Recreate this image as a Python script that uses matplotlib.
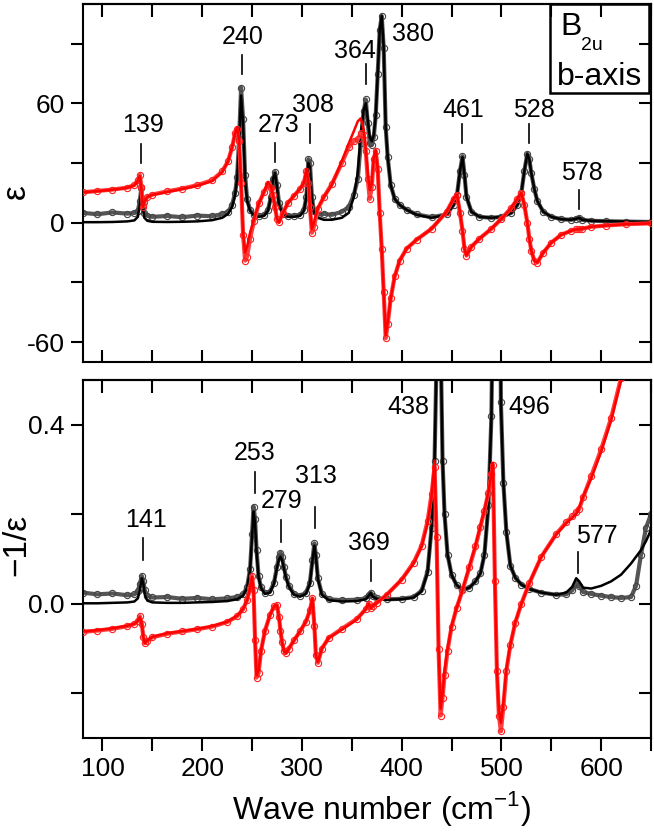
import matplotlib
import matplotlib.pyplot as plt
from matplotlib.patches import Rectangle
from matplotlib.ticker import MultipleLocator, FormatStrFormatter

matplotlib.pyplot.switch_backend('Agg')
plt.rcParams['font.family'] = ['Liberation Sans', 'DejaVu Sans']
plt.rcParams['axes.unicode_minus'] = False
plt.rcParams['mathtext.fontset'] = 'custom'
plt.rcParams['mathtext.rm'] = 'Liberation Sans'

# ---- top panel: epsilon (black = eps2, red = eps1) ----
wn_top = [80, 95, 110, 125, 132, 135.5, 137.5, 139, 140.5, 142, 145, 150, 165, 180, 195,
          210, 220, 226, 230, 233, 235, 237, 239, 241, 243, 245, 248, 252, 257, 262,
          266, 269, 271, 273, 275, 277, 281, 286, 292, 298, 302, 304.5, 306.5, 308, 310,
          312, 316, 322, 330, 340, 347, 352, 356, 359, 362, 364, 366, 368, 370, 372,
          374, 376, 378, 380, 382, 384, 386, 389, 393, 398, 405, 415, 430, 445, 452,
          455.5, 458.5, 461, 463, 465, 470, 478, 490, 500, 510, 516, 520, 523, 526, 528,
          530, 533, 536, 542, 550, 560, 570, 575, 578, 581, 590, 605, 625, 650]
eps2_fit = [0.3, 0.3, 0.4, 0.7, 1.2, 3.0, 9.0, 17.0, 8.0, 2.5, 1.0, 0.5, 0.4, 0.5, 0.7,
            1.3, 2.5, 4.5, 8.0, 14.0, 22.0, 40.0, 64.0, 50.0, 22.0, 11.0, 6.0, 3.5, 3.0, 3.5,
            6.0, 13.0, 22.0, 25.0, 18.0, 9.0, 4.0, 3.0, 3.0, 3.5, 6.0, 13.0, 30.0, 28.0, 12.0,
            5.0, 2.5, 1.5, 1.5, 2.5, 5.0, 13.0, 25.0, 45.0, 57.0, 60.0, 52.0, 43.0, 41.0, 44.0,
            54.0, 75.0, 97.0, 104.0, 88.0, 48.0, 33.0, 19.0, 12.0, 9.0, 6.5, 4.0, 2.5, 4.0, 9.0,
            14.0, 26.0, 33.0, 24.0, 13.0, 5.5, 3.0, 2.5, 3.0, 5.0, 9.0, 15.0, 26.0, 34.7, 32.0,
            25.0, 17.0, 11.0, 5.5, 3.0, 1.8, 1.5, 2.0, 2.5, 1.5, 1.0, 0.8, 0.6, 0.4]
eps2_data = [5.0, 4.3, 5.2, 4.6, 4.9, 6.0, 11.0, 17.5, 9.0, 5.0, 3.5, 3.0, 3.4, 2.8, 3.6,
             3.3, 4.4, 5.5, 9.0, 15.0, 23.0, 42.0, 68.0, 52.0, 24.0, 12.0, 6.5, 4.0, 3.5, 4.0,
             6.5, 13.0, 22.0, 25.5, 19.0, 10.0, 4.5, 3.5, 3.5, 4.0, 6.5, 13.0, 32.0, 30.0, 13.0,
             6.0, 4.0, 4.5, 4.0, 5.5, 8.0, 14.0, 22.0, 40.0, 56.0, 62.0, 50.0, 40.0, 39.0, 43.0,
             54.0, 75.0, 97.0, 104.0, 88.0, 48.0, 33.0, 19.0, 12.0, 9.0, 6.5, 4.2, 2.8, 4.2, 9.0,
             14.0, 26.0, 33.5, 24.0, 13.0, 5.5, 3.0, 2.5, 3.0, 5.0, 9.0, 15.0, 26.0, 34.7, 32.0,
             25.0, 17.0, 11.0, 5.5, 3.0, 1.8, 1.5, 2.0, 2.5, 1.5, 1.0, 0.8, 0.6, 0.4]
eps1_fit = [15.3, 15.9, 16.6, 17.6, 18.8, 21.0, 23.5, 17.0, 8.0, 10.5, 13.0, 14.0, 15.5, 17.0, 18.6,
            21.0, 25.5, 31.0, 38.0, 45.0, 48.0, 42.0, 20.0, -5.0, -15.0, -12.0, -5.0, 2.0, 10.0, 15.5,
            20.5, 18.0, 14.0, 8.0, 2.0, 0.0, 5.0, 10.0, 13.5, 17.0, 20.0, 27.0, 20.0, 8.0, -3.0,
            0.0, 7.5, 13.0, 19.0, 31.0, 40.0, 46.0, 51.0, 52.5, 47.0, 37.0, 25.0, 16.5, 20.0, 33.0,
            36.5, 27.0, 5.0, -13.0, -35.0, -56.5, -50.0, -38.0, -27.0, -19.0, -13.0, -8.5, -3.0, 5.5, 12.0,
            14.2, 5.0, -4.0, -13.0, -16.5, -12.0, -8.0, -3.0, 2.0, 7.5, 12.0, 15.0, 9.0, 0.0, -8.0,
            -14.0, -19.0, -20.0, -15.0, -10.0, -6.0, -4.0, -3.3, -3.3, -3.0, -2.0, -1.4, -0.7, -0.3]
eps1_data = [15.3, 16.0, 16.7, 17.7, 19.0, 21.5, 24.0, 18.0, 8.0, 10.5, 13.0, 14.2, 15.8, 17.2, 18.9,
             21.4, 25.8, 31.0, 38.0, 45.0, 47.0, 41.0, 20.0, -6.0, -19.0, -17.0, -8.0, 1.0, 10.0, 15.5,
             19.5, 17.5, 14.0, 8.0, 2.0, 0.5, 5.0, 10.0, 13.5, 17.0, 20.0, 26.0, 20.0, 8.0, -5.0,
             -2.0, 7.0, 13.0, 19.5, 30.0, 38.0, 41.0, 42.0, 45.0, 44.0, 36.0, 22.0, 12.0, 18.0, 32.0,
             36.0, 27.0, 5.0, -13.0, -35.0, -58.0, -51.0, -38.0, -27.0, -19.0, -13.0, -8.5, -3.0, 5.5, 12.0,
             14.0, 5.0, -4.0, -13.0, -16.5, -12.0, -8.0, -3.0, 2.0, 7.5, 12.0, 15.0, 9.0, 0.0, -8.0,
             -14.0, -19.0, -20.0, -15.0, -10.0, -6.0, -4.0, -3.3, -3.3, -3.0, -2.0, -1.4, -0.7, -0.3]

# ---- bottom panel: -1/epsilon (black = Im, red = Re) ----
wn_bot = [80, 95, 110, 125, 132, 135.5, 137.5, 139.5, 141, 142.5, 145, 150, 165, 180, 195,
          210, 225, 235, 241, 245, 248, 250, 251.5, 253, 254.5, 256.5, 259, 263, 268, 272,
          275, 277, 278.5, 280, 282, 284, 287, 292, 298, 304, 308, 310.5, 312.5, 314, 316,
          320, 327, 340, 355, 364, 367, 369, 371, 375, 385, 400, 412, 420, 426, 430,
          433, 435, 437, 439, 441, 443, 446, 450, 455, 461, 468, 474, 479, 483, 487,
          490, 491.5, 493.5, 495.5, 497.5, 499.5, 502, 505, 509, 514, 520, 528, 540, 555, 565,
          571, 575, 578, 582, 590, 600, 610, 620, 630, 635, 640, 645, 650]
loss_fit = [0.001, 0.001, 0.002, 0.003, 0.005, 0.012, 0.030, 0.057, 0.045, 0.020, 0.007, 0.003, 0.002, 0.002, 0.003,
            0.004, 0.006, 0.010, 0.018, 0.035, 0.075, 0.150, 0.206, 0.180, 0.115, 0.060, 0.035, 0.022, 0.025, 0.045,
            0.080, 0.100, 0.105, 0.098, 0.078, 0.058, 0.038, 0.020, 0.016, 0.022, 0.045, 0.095, 0.130, 0.105, 0.055,
            0.020, 0.008, 0.005, 0.006, 0.010, 0.018, 0.024, 0.016, 0.011, 0.009, 0.010, 0.014, 0.028, 0.070, 0.170,
            0.320, 0.550, 1.500, 0.600, 0.320, 0.200, 0.110, 0.065, 0.042, 0.031, 0.036, 0.050, 0.068, 0.110, 0.220,
            0.420, 0.700, 1.500, 3.000, 1.200, 0.450, 0.270, 0.160, 0.085, 0.058, 0.043, 0.033, 0.025, 0.020, 0.025,
            0.038, 0.057, 0.050, 0.036, 0.034, 0.040, 0.050, 0.065, 0.090, 0.105, 0.120, 0.140, 0.165]
loss_data = [0.025, 0.021, 0.023, 0.019, 0.021, 0.028, 0.045, 0.062, 0.050, 0.030, 0.018, 0.014, 0.015, 0.011, 0.013,
             0.010, 0.012, 0.015, 0.021, 0.037, 0.077, 0.155, 0.217, 0.190, 0.120, 0.062, 0.037, 0.024, 0.027, 0.047,
             0.083, 0.105, 0.114, 0.105, 0.082, 0.060, 0.040, 0.022, 0.018, 0.024, 0.047, 0.098, 0.135, 0.108, 0.057,
             0.022, 0.010, 0.008, 0.009, 0.012, 0.020, 0.025, 0.017, 0.012, 0.010, 0.011, 0.015, 0.029, 0.072, 0.170,
             0.320, 0.550, 1.500, 0.600, 0.320, 0.200, 0.110, 0.065, 0.042, 0.031, 0.036, 0.050, 0.068, 0.110, 0.220,
             0.420, 0.700, 1.500, 3.000, 1.200, 0.450, 0.270, 0.160, 0.085, 0.058, 0.043, 0.033, 0.025, 0.020, 0.021,
             0.030, 0.045, 0.040, 0.026, 0.022, 0.018, 0.015, 0.013, 0.015, 0.040, 0.110, 0.170, 0.200]
re_fit = [-0.062, -0.059, -0.055, -0.049, -0.045, -0.038, -0.030, -0.045, -0.075, -0.088, -0.082, -0.074, -0.066, -0.061, -0.056,
          -0.050, -0.040, -0.027, -0.012, 0.008, 0.035, 0.060, 0.030, -0.080, -0.160, -0.150, -0.105, -0.060, -0.025, -0.006,
          -0.003, -0.030, -0.060, -0.085, -0.105, -0.110, -0.100, -0.082, -0.062, -0.040, -0.015, 0.012, -0.050, -0.115, -0.130,
          -0.100, -0.076, -0.058, -0.035, -0.012, 0.000, -0.010, -0.005, 0.002, 0.020, 0.054, 0.090, 0.128, 0.180, 0.240,
          0.320, 0.150, -0.100, -0.235, -0.200, -0.150, -0.100, -0.050, -0.010, 0.031, 0.085, 0.130, 0.175, 0.210, 0.250,
          0.290, 0.315, 0.050, -0.150, -0.240, -0.266, -0.220, -0.145, -0.090, -0.040, 0.000, 0.046, 0.105, 0.155, 0.180,
          0.192, 0.200, 0.215, 0.240, 0.280, 0.340, 0.410, 0.500, 0.580, 0.630, 0.680, 0.720, 0.770]
re_data = [-0.063, -0.060, -0.056, -0.050, -0.045, -0.038, -0.028, -0.045, -0.075, -0.088, -0.083, -0.075, -0.067, -0.062, -0.057,
           -0.051, -0.041, -0.028, -0.012, 0.008, 0.035, 0.062, 0.030, -0.080, -0.165, -0.155, -0.105, -0.060, -0.025, -0.006,
           -0.003, -0.030, -0.060, -0.085, -0.105, -0.110, -0.100, -0.082, -0.062, -0.040, -0.015, 0.012, -0.050, -0.115, -0.132,
           -0.100, -0.076, -0.056, -0.034, -0.012, 0.000, -0.010, -0.005, 0.002, 0.020, 0.054, 0.092, 0.130, 0.185, 0.245,
           0.305, 0.150, -0.100, -0.250, -0.210, -0.160, -0.105, -0.052, -0.010, 0.030, 0.082, 0.128, 0.172, 0.208, 0.248,
           0.290, 0.310, 0.050, -0.150, -0.250, -0.285, -0.230, -0.150, -0.092, -0.042, 0.000, 0.046, 0.105, 0.156, 0.182,
           0.195, 0.205, 0.212, 0.238, 0.285, 0.345, 0.415, 0.505, 0.585, 0.630, 0.680, 0.720, 0.770]

# peak labels
top_peaks = [139, 240, 273, 308, 364, 380, 461, 528, 578]
top_text_dx = [2, 1, 3.5, 3, -10.5, 31, 1, 5, 3]
top_text_y = [45.6, 90, 45.6, 55.6, 83, 91.6, 53, 53, 21.6]
top_mark_y = [30, 74.6, 30.6, 40, 70, None, 40, 40, 7]
bot_peaks = [141, 253, 279, 313, 369, 438, 496, 577]
bot_text_dx = [2.5, 0, 1, 1, -1.5, -31.5, 31.5, 19]
bot_text_y = [0.172, 0.321, 0.213, 0.269, 0.12, 0.425, 0.425, 0.135]
bot_mark_y = [0.098, 0.247, 0.139, 0.169, 0.05, None, None, 0.068]

fig = plt.figure(figsize=(6.54, 8.34), dpi=100)
W, H = 654.0, 834.0
ax1 = fig.add_axes([82.5 / W, 1 - 362 / H, 568.5 / W, 358 / H])
ax2 = fig.add_axes([82.5 / W, 1 - 738 / H, 568.5 / W, 358 / H])


def draw_curves(ax, x, bd, bf, rd, rf):
    ax.plot(x, bd, color='#555555', lw=3, marker='o', ms=4.5, mfc='none',
            mec='#444444', mew=0.8, zorder=2)
    ax.plot(x, bf, color='black', lw=1.8, zorder=3)
    ax.plot(x, rd, color='#ff4040', lw=3, marker='o', ms=4.5, mfc='none',
            mec='#ff2020', mew=0.8, zorder=4)
    ax.plot(x, rf, color='#ff0000', lw=1.8, zorder=5)


def style_axes(ax, bottom_out):
    for s in ax.spines.values():
        s.set_linewidth(1.5)
    ax.set_xlim(80, 650)
    ax.xaxis.set_major_locator(MultipleLocator(100))
    ax.xaxis.set_minor_locator(MultipleLocator(50))
    ax.tick_params(axis='y', which='both', direction='out', length=9, width=1.5,
                   labelsize=19, pad=4, right=False)
    ax.tick_params(axis='x', which='both', direction='out' if bottom_out else 'in',
                   length=9, width=1.5, labelsize=19, pad=5, top=False,
                   labelbottom=bottom_out)
    sx = ax.secondary_xaxis('top')
    sx.xaxis.set_major_locator(MultipleLocator(50))
    sx.tick_params(direction='in', length=9, width=1.5, labeltop=False)
    sy = ax.secondary_yaxis('right')
    sy.yaxis.set_major_locator(ax.yaxis.get_minor_locator())
    sy.tick_params(direction='in', length=9, width=1.5, labelright=False)
    for sec in (sx, sy):
        for s in sec.spines.values():
            s.set_linewidth(1.5)


def label_peaks(ax, peaks, dx, ty, my, mlen):
    for p, d, t, m in zip(peaks, dx, ty, my):
        ax.text(p + d, t, str(p), ha='center', va='baseline', fontsize=18)
        if m is not None:
            ax.plot([p, p], [m, m + mlen], color='black', lw=1.2)


draw_curves(ax1, wn_top, eps2_data, eps2_fit, eps1_data, eps1_fit)
ax1.set_ylim(-70, 110)
ax1.yaxis.set_major_locator(MultipleLocator(60))
ax1.yaxis.set_minor_locator(MultipleLocator(30))
style_axes(ax1, False)
label_peaks(ax1, top_peaks, top_text_dx, top_text_y, top_mark_y, 9.6)

draw_curves(ax2, wn_bot, loss_data, loss_fit, re_data, re_fit)
ax2.set_ylim(-0.3, 0.5)
ax2.yaxis.set_major_locator(MultipleLocator(0.4))
ax2.yaxis.set_minor_locator(MultipleLocator(0.2))
ax2.yaxis.set_major_formatter(FormatStrFormatter('%.1f'))
style_axes(ax2, True)
label_peaks(ax2, bot_peaks, bot_text_dx, bot_text_y, bot_mark_y, 0.048)

# symmetry box
ax1.add_patch(Rectangle((0.822, 0.751), 0.1745, 0.249, transform=ax1.transAxes,
                        fill=False, lw=1.8, ec='black', zorder=6))
ax1.text(0.840, 0.913, 'B', transform=ax1.transAxes, fontsize=23, va='baseline')
ax1.text(0.877, 0.872, '2u', transform=ax1.transAxes, fontsize=14, va='baseline')
ax1.text(0.834, 0.774, 'b-axis', transform=ax1.transAxes, fontsize=23, va='baseline')

fig.text(16 / W, 1 - 192 / H, '\u03b5', rotation=90, fontsize=24, ha='center', va='center')
fig.text(17 / W, 1 - 545 / H, '\u22121/\u03b5', rotation=90, fontsize=24, ha='center', va='center')
fig.text(381 / W, 1 - 809 / H, 'Wave number (cm$^{-1}$)', fontsize=23, ha='center', va='center')

fig.savefig('out.png', dpi=100)
plt.close(fig)
